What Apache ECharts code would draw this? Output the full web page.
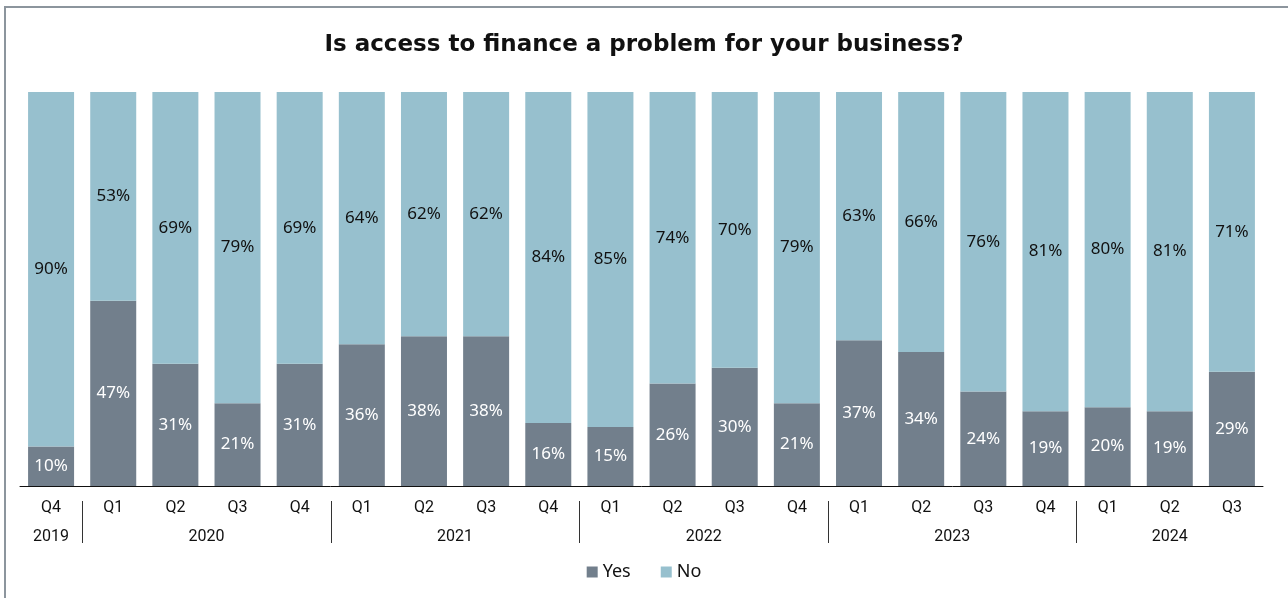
<!DOCTYPE html>
<html>
<head>
<meta charset="utf-8">
<script src="https://cdn.jsdelivr.net/npm/echarts@6/dist/echarts.min.js"></script>
<style>
html,body{margin:0;padding:0;background:#fff;}
#chart{width:1288px;height:598px;}
</style>
</head>
<body>
<div id="chart"></div>
<script>
const quarters = ['Q4','Q1','Q2','Q3','Q4','Q1','Q2','Q3','Q4','Q1','Q2','Q3','Q4','Q1','Q2','Q3','Q4','Q1','Q2','Q3'];
const years = ['2019','2020','2021','2022','2023','2024'];
const yearCounts = [1,4,4,4,4,3];
const yesValues = [10,47,31,21,31,36,38,38,16,15,26,30,21,37,34,24,19,20,19,29];
const noValues  = [90,53,69,79,69,64,62,62,84,85,74,70,79,63,66,76,81,80,81,71];

// build half-step year axis (2*N+1 points) from yearCounts
const halfN = quarters.length * 2 + 1;
const yearAxisData = new Array(halfN).fill('');
const boundaryIdx = [];
let start = 0;
yearCounts.forEach((c, i) => {
  yearAxisData[start * 2 + c] = years[i];
  start += c;
  if (i < yearCounts.length - 1) boundaryIdx.push(start * 2);
});

const axisFont = { fontFamily: 'Roboto', fontSize: 16, color: '#111' };

const chart = echarts.init(document.getElementById('chart'));
chart.setOption({
  animation: false,
  title: {
    text: 'Is access to finance a problem for your business?',
    left: 'center',
    top: 29,
    textStyle: { fontFamily: 'DejaVu Sans', fontWeight: 'bold', fontSize: 23, color: '#111' }
  },
  graphic: [{
    type: 'rect',
    shape: { x: 5, y: 7, width: 1290, height: 600 },
    style: { fill: 'none', stroke: '#8c959d', lineWidth: 2 }
  }],
  legend: {
    data: ['Yes', 'No'],
    bottom: 12,
    left: 'center',
    icon: 'rect',
    itemWidth: 11,
    itemHeight: 11,
    itemGap: 30,
    textStyle: { fontFamily: 'Noto Sans', fontSize: 18, color: '#111' }
  },
  grid: { left: 20, right: 25, top: 92, bottom: 112 },
  xAxis: [{
    type: 'category',
    data: quarters,
    axisLine: { lineStyle: { color: '#111', width: 1 } },
    axisTick: { show: false },
    axisLabel: Object.assign({ margin: 14, interval: 0 }, axisFont)
  }, {
    type: 'category',
    data: yearAxisData,
    position: 'bottom',
    offset: 15,
    boundaryGap: false,
    axisLine: { show: false },
    axisTick: {
      show: true, length: 42,
      interval: (idx) => boundaryIdx.indexOf(idx) >= 0,
      lineStyle: { color: '#333', width: 1 }
    },
    axisLabel: Object.assign({ interval: 0, margin: 28 }, axisFont)
  }],
  yAxis: { type: 'value', min: 0, max: 100, show: false },
  series: [{
    name: 'Yes', type: 'bar', stack: 'total', xAxisIndex: 0,
    barWidth: 46,
    data: yesValues,
    itemStyle: { color: '#727f8c' },
    label: { show: true, position: 'inside', formatter: '{c}%', color: '#fff', fontFamily: 'Noto Sans', fontSize: 17 }
  }, {
    name: 'No', type: 'bar', stack: 'total', xAxisIndex: 0,
    barWidth: 46,
    data: noValues,
    itemStyle: { color: '#97c0ce' },
    label: { show: true, position: 'inside', formatter: '{c}%', color: '#111', fontFamily: 'Noto Sans', fontSize: 17 }
  }]
});
</script>
</body>
</html>
